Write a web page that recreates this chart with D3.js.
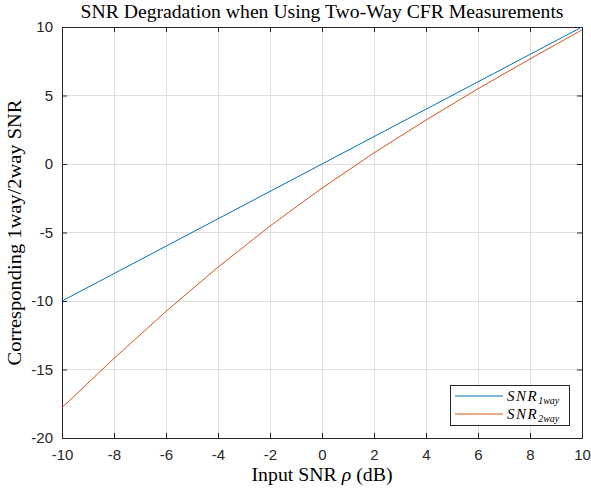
<!DOCTYPE html>
<html>
<head>
<meta charset="utf-8">
<script src="https://cdn.jsdelivr.net/npm/d3@7"></script>
<style>
  body { margin: 0; background: #fff; }
  svg { display: block; }
</style>
</head>
<body>
<script>
// Input SNR (dB), sampled every 2 dB
var inputSnr = [-10, -8, -6, -4, -2, 0, 2, 4, 6, 8, 10];
// one-way SNR follows the input
var snr1way = [-10, -8, -6, -4, -2, 0, 2, 4, 6, 8, 10];
// two-way SNR
var snr2way = [-17.78, -14.19, -10.76, -7.53, -4.53, -1.76, 0.81, 3.21, 5.49, 7.67, 9.79];

var xTicks = [-10, -8, -6, -4, -2, 0, 2, 4, 6, 8, 10];
var yTicks = [-20, -15, -10, -5, 0, 5, 10];

var margin = {top: 27, right: 9, bottom: 53, left: 62},
    width = 591 - margin.left - margin.right,
    height = 491 - margin.top - margin.bottom;

var axisColor = "#262626";
var serif = "'Liberation Serif', 'DejaVu Serif', serif";
var sans = "'Liberation Sans', Arial, sans-serif";

var svg = d3.select("body").append("svg")
    .attr("width", 591)
    .attr("height", 491);

var g = svg.append("g")
    .attr("transform", "translate(" + margin.left + "," + margin.top + ")");

var xScale = d3.scaleLinear().domain([-10, 10]).range([0, width]);
var yScale = d3.scaleLinear().domain([-20, 10]).range([height, 0]);

// grid
g.append("g").selectAll("line")
    .data(xTicks)
    .enter().append("line")
    .attr("x1", function(d) { return xScale(d); })
    .attr("x2", function(d) { return xScale(d); })
    .attr("y1", 0).attr("y2", height)
    .attr("stroke", "#dfdfdf").attr("stroke-width", 1)
    .attr("shape-rendering", "crispEdges");

g.append("g").selectAll("line")
    .data(yTicks)
    .enter().append("line")
    .attr("y1", function(d) { return yScale(d); })
    .attr("y2", function(d) { return yScale(d); })
    .attr("x1", 0).attr("x2", width)
    .attr("stroke", "#dfdfdf").attr("stroke-width", 1)
    .attr("shape-rendering", "crispEdges");

// axes (ticks point inward, box on all sides); plain hyphen for negatives
var fmt = function(d) { return String(d); };
var xAxis = d3.axisBottom(xScale).tickValues(xTicks).tickFormat(fmt).tickSizeInner(-5).tickSizeOuter(0).tickPadding(11);
var yAxis = d3.axisLeft(yScale).tickValues(yTicks).tickFormat(fmt).tickSizeInner(-5).tickSizeOuter(0).tickPadding(9);
var xTop = d3.axisTop(xScale).tickValues(xTicks).tickSizeInner(-5).tickSizeOuter(0).tickFormat("");
var yRight = d3.axisRight(yScale).tickValues(yTicks).tickSizeInner(-5).tickSizeOuter(0).tickFormat("");

function styleAxis(sel) {
    sel.selectAll("path, line").attr("stroke", axisColor);
    sel.selectAll("text")
        .attr("fill", axisColor)
        .attr("font-family", sans)
        .attr("font-size", "15px");
}

g.append("g").attr("transform", "translate(0," + height + ")").call(xAxis).call(styleAxis);
g.append("g").call(yAxis).call(styleAxis);
g.append("g").call(xTop).call(styleAxis);
g.append("g").attr("transform", "translate(" + width + ",0)").call(yRight).call(styleAxis);

// lines
var line = d3.line()
    .x(function(d) { return xScale(d[0]); })
    .y(function(d) { return yScale(d[1]); });

var series = [
    {name: "1way", color: "#0072BD", values: d3.zip(inputSnr, snr1way)},
    {name: "2way", color: "#D95319", values: d3.zip(inputSnr, snr2way)}
];

g.selectAll(".series")
    .data(series)
    .enter().append("path")
    .attr("class", "series")
    .attr("d", function(d) { return line(d.values); })
    .attr("fill", "none")
    .attr("stroke", function(d) { return d.color; })
    .attr("stroke-width", 1);

// title
svg.append("text")
    .attr("x", margin.left + width / 2)
    .attr("y", 18)
    .attr("text-anchor", "middle")
    .attr("font-family", serif)
    .attr("font-size", "18px")
    .attr("fill", "#000")
    .attr("textLength", 483)
    .attr("lengthAdjust", "spacingAndGlyphs")
    .text("SNR Degradation when Using Two-Way CFR Measurements");

// x label
var xl = svg.append("text")
    .attr("x", margin.left + width / 2)
    .attr("y", 481)
    .attr("text-anchor", "middle")
    .attr("font-family", serif)
    .attr("font-size", "18px")
    .attr("fill", "#000")
    .attr("textLength", 141)
    .attr("lengthAdjust", "spacingAndGlyphs");
xl.append("tspan").text("Input SNR ");
xl.append("tspan").attr("font-style", "italic").text("ρ");
xl.append("tspan").text(" (dB)");

// y label
svg.append("text")
    .attr("transform", "translate(21," + (margin.top + height / 2) + ") rotate(-90)")
    .attr("text-anchor", "middle")
    .attr("font-family", serif)
    .attr("font-size", "18px")
    .attr("fill", "#000")
    .attr("textLength", 266)
    .attr("lengthAdjust", "spacingAndGlyphs")
    .text("Corresponding 1way/2way SNR");

// legend
var legend = g.append("g")
    .attr("transform", "translate(" + (450 - margin.left) + "," + (385 - margin.top) + ")");

legend.append("rect")
    .attr("x", 0.5).attr("y", 0.5)
    .attr("width", 119).attr("height", 40)
    .attr("fill", "#fff")
    .attr("stroke", axisColor)
    .attr("stroke-width", 1);

var items = legend.selectAll(".item")
    .data(series)
    .enter().append("g")
    .attr("class", "item")
    .attr("transform", function(d, i) { return "translate(0," + (11 + i * 18) + ")"; });

items.append("line")
    .attr("x1", 5).attr("x2", 53)
    .attr("y1", 0).attr("y2", 0)
    .attr("stroke", function(d) { return d.color; })
    .attr("stroke-width", 1);

var lt = items.append("text")
    .attr("x", 57)
    .attr("y", 5)
    .attr("font-family", serif)
    .attr("font-style", "italic")
    .attr("font-size", "15px")
    .attr("fill", "#000");
lt.append("tspan").attr("letter-spacing", "1.5px").text("SNR");
lt.append("tspan")
    .attr("font-size", "10px")
    .attr("dy", 3)
    .text(function(d) { return d.name; });
</script>
</body>
</html>
